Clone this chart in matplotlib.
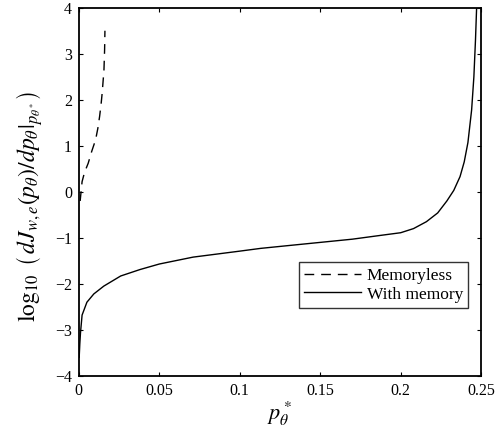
import matplotlib.pyplot as plt

plt.rcParams["font.family"] = ["Liberation Serif", "DejaVu Serif"]
plt.rcParams["mathtext.fontset"] = "stix"

# values
memoryless_p = [0.0008, 0.002, 0.0035, 0.0058, 0.008, 0.0104, 0.0118, 0.0129, 0.0138, 0.0145, 0.0156, 0.016, 0.0162]
memoryless_log = [-0.2, 0.22, 0.42, 0.62, 0.88, 1.13, 1.38, 1.64, 1.9, 2.15, 2.65, 3.09, 3.5]

memory_p = [0.0002, 0.0006, 0.001, 0.002, 0.005, 0.0093, 0.0155, 0.026, 0.038, 0.05,
            0.071, 0.1, 0.113, 0.13, 0.15, 0.17, 0.187, 0.2, 0.208, 0.216, 0.223, 0.2287,
            0.233, 0.2369, 0.2395, 0.2418, 0.2441, 0.2455, 0.2465, 0.2472]
memory_log = [-3.6, -3.3, -3.07, -2.68, -2.4, -2.22, -2.05, -1.83, -1.69, -1.57,
              -1.42, -1.29, -1.23, -1.17, -1.1, -1.03, -0.95, -0.89, -0.8, -0.65, -0.46, -0.2,
              0.03, 0.33, 0.65, 1.07, 1.78, 2.5, 3.3, 4.0]

x_ticks = [0, 0.05, 0.1, 0.15, 0.2, 0.25]
x_tick_labels = ["0", "0.05", "0.1", "0.15", "0.2", "0.25"]
y_ticks = [-4, -3, -2, -1, 0, 1, 2, 3, 4]

fig = plt.figure(figsize=(4.96, 4.30), dpi=100)
ax = fig.add_axes([0.159, 0.126, 0.811, 0.856])

ax.plot(memoryless_p, memoryless_log, color="black", linewidth=1.0,
        linestyle=(0, (7, 5)), label="Memoryless")
ax.plot(memory_p, memory_log, color="black", linewidth=1.0, label="With memory")

ax.set_xlim(0, 0.25)
ax.set_ylim(-4, 4)
ax.set_xticks(x_ticks)
ax.set_xticklabels(x_tick_labels)
ax.set_yticks(y_ticks)
ax.tick_params(direction="in", top=True, right=True, length=3, labelsize=11.5, pad=5)
for spine in ax.spines.values():
    spine.set_linewidth(1.3)

ax.set_xlabel(r"$p_\theta^*$", fontsize=16, labelpad=1)
ax.set_ylabel(r"$\log_{10}\ \left(\,dJ_{w,e}(p_\theta)/dp_\theta|_{p_{\theta^*}}\right)$",
              fontsize=17)
ax.yaxis.set_label_coords(-0.085, 0.46)

legend = ax.legend(loc="lower right", bbox_to_anchor=(0.968, 0.185), borderaxespad=0,
                   fontsize=12.5, frameon=True, fancybox=False, handlelength=3.3,
                   handletextpad=0.3, borderpad=0.3, labelspacing=0.15)
legend.get_frame().set_edgecolor("black")
legend.get_frame().set_linewidth(1.0)

fig.savefig("out.png", dpi=100)
plt.close(fig)
